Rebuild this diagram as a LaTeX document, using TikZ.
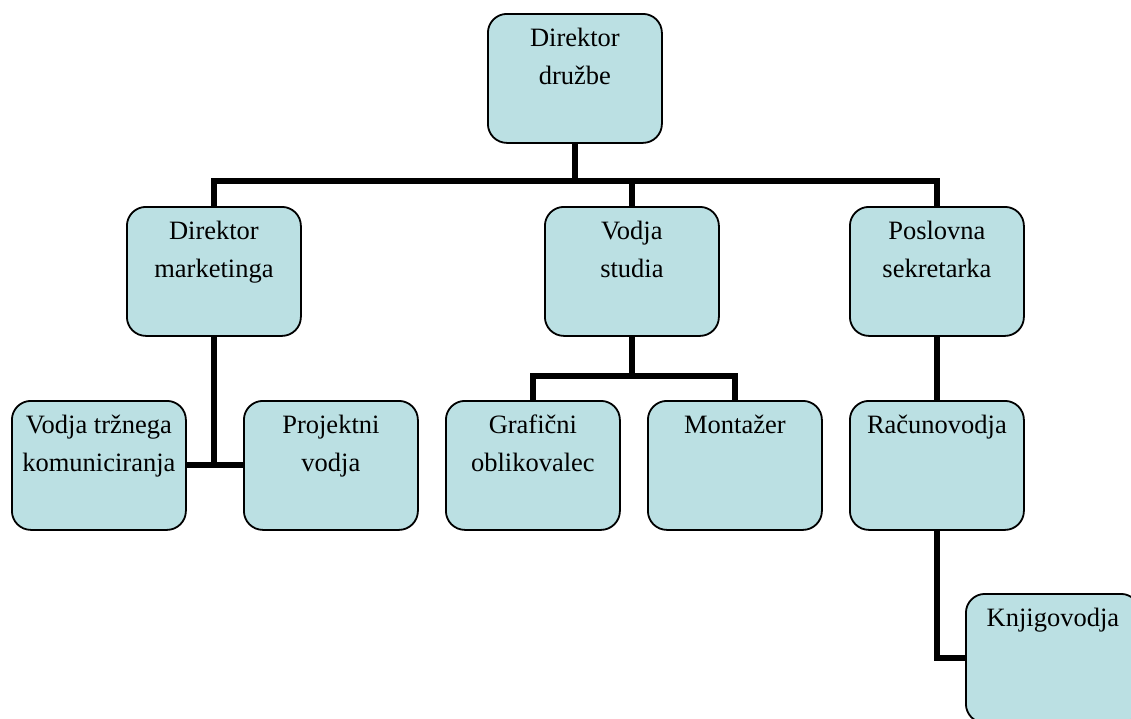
\documentclass[tikz,border=0pt]{standalone}
\usepackage{fontspec}
\setmainfont{Liberation Serif}
\definecolor{boxfill}{HTML}{BBE0E3}
\newcommand{\boxtext}[1]{\parbox[c][129pt][t]{174pt}{\centering\fontsize{26.5}{38}\selectfont\rule{0pt}{33pt}#1}}
\begin{document}
\begin{tikzpicture}[x=1pt,y=-1pt,
  orgbox/.style={draw=black,line width=1.8pt,fill=boxfill,rounded corners=19pt,
    inner sep=0pt,anchor=north west},
  link/.style={line width=6pt,line cap=butt}]
\clip (0,0) rectangle (1131,718);
\fill[white] (0,0) rectangle (1131,718);
\coordinate (busY) at (0,181);
\coordinate (subY) at (0,376);
% boxes
\node[orgbox] (dd)  at (487,13)  {\boxtext{Direktor\\družbe}};
\node[orgbox] (dm)  at (126,206) {\boxtext{Direktor\\marketinga}};
\node[orgbox] (vs)  at (544,206) {\boxtext{Vodja\\studia}};
\node[orgbox] (ps)  at (849,206) {\boxtext{Poslovna\\sekretarka}};
\node[orgbox] (vtk) at (11,400)  {\boxtext{Vodja tržnega\\komuniciranja}};
\node[orgbox] (pv)  at (243,400) {\boxtext{Projektni\\vodja}};
\node[orgbox] (go)  at (445,400) {\boxtext{Grafični\\oblikovalec}};
\node[orgbox] (mo)  at (647,400) {\boxtext{Montažer}};
\node[orgbox] (ra)  at (849,400) {\boxtext{Računovodja}};
\node[orgbox] (kn)  at (965,593) {\boxtext{Knjigovodja}};
% connectors
\draw[link] (dd.south) -- (dd.south |- busY);
\draw[link] (dm.north) -- (dm.north |- busY) -- (ps.north |- busY) -- (ps.north);
\draw[link] (vs.north |- busY) -- (vs.north);
\draw[link] (dm.south) -- (dm.south |- vtk.east);
\draw[link] (vtk.east) -- (pv.west);
\draw[link] (vs.south) -- (vs.south |- subY);
\draw[link] (go.north) -- (go.north |- subY) -- (mo.north |- subY) -- (mo.north);
\draw[link] (ps.south) -- (ra.north);
\draw[link] (ra.south) |- (kn.west);
\end{tikzpicture}
\end{document}
